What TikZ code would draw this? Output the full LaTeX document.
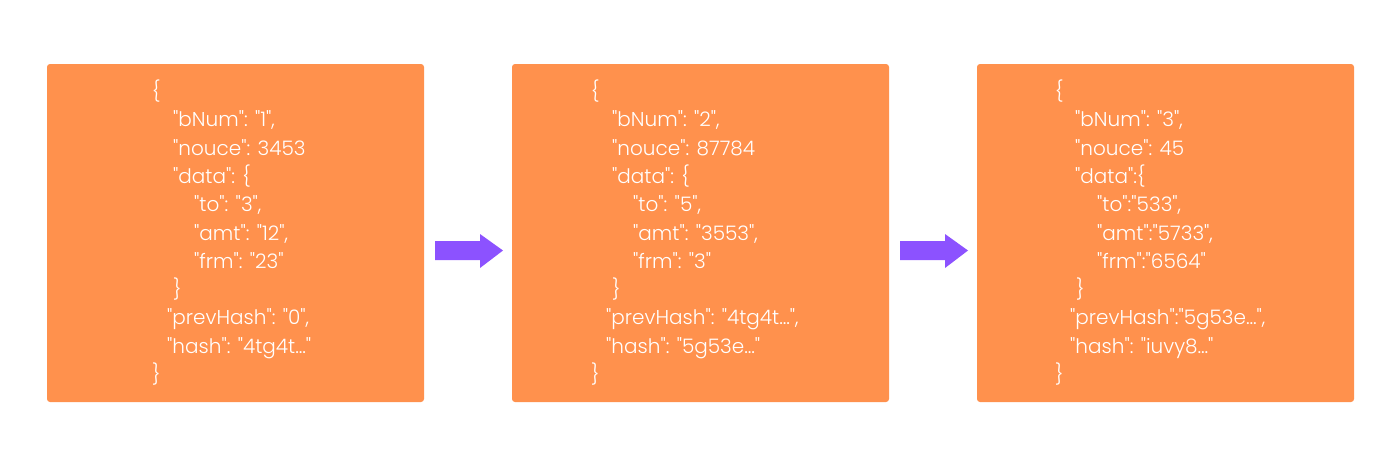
\documentclass[tikz,border=0pt]{standalone}
\usepackage{fontspec}
\setmainfont{Poppins Light}[Ligatures=TeXOff]
\definecolor{blockorange}{HTML}{FF914D}
\definecolor{arrowpurple}{HTML}{8C52FF}
\tikzset{
  blockbox/.style={fill=blockorange, draw=none, rounded corners=3pt, minimum width=377pt, minimum height=338pt, inner sep=0pt},
  jline/.style={anchor=base west, inner sep=0pt, text=white, font=\fontsize{20}{24}\selectfont},
  blockarrow/.style={fill=arrowpurple, draw=none}
}
\begin{document}
\begin{tikzpicture}[x=1pt, y=-1pt]
\useasboundingbox (0,0) rectangle (1400,467);
\node[blockbox] (box1) at (235.5,233) {};
\node[blockbox] (box2) at (700.5,233) {};
\node[blockbox] (box3) at (1165.5,233) {};
% arrows
\fill[blockarrow] (435,241) -- (480,241) -- (480,234) -- (503,250.5) -- (480,268) -- (480,260) -- (435,260) -- cycle;
\fill[blockarrow] (900,241) -- (945,241) -- (945,234) -- (968,250.5) -- (945,268) -- (945,260) -- (900,260) -- cycle;
% block 1
\node[jline] (a0) at (152,98.5) {\{};
\node[jline] (a1) at (173,126.8) {"bNum": "1",};
\node[jline] (a2) at (173,155.1) {"nouce": 3453};
\node[jline] (a3) at (173,183.4) {"data": \{};
\node[jline] (a4) at (194,211.7) {"to": "3",};
\node[jline] (a5) at (194,240) {"amt": "12",};
\node[jline] (a6) at (194,268.3) {"frm": "23"};
\node[jline] (a7) at (173,296.6) {\}};
\node[jline] (a8) at (167,324.9) {"prevHash": "0",};
\node[jline] (a9) at (167,353.2) {"hash": "4tg4t…"};
\node[jline] (a10) at (152,381.5) {\}};
% block 2
\node[jline] (b0) at (591,98.5) {\{};
\node[jline] (b1) at (612,126.8) {"bNum": "2",};
\node[jline] (b2) at (612,155.1) {"nouce": 87784};
\node[jline] (b3) at (612,183.4) {"data": \{};
\node[jline] (b4) at (633,211.7) {"to": "5",};
\node[jline] (b5) at (633,240) {"amt": "3553",};
\node[jline] (b6) at (633,268.3) {"frm": "3"};
\node[jline] (b7) at (612,296.6) {\}};
\node[jline] (b8) at (606,324.9) {"prevHash": "4tg4t…",};
\node[jline] (b9) at (606,353.2) {"hash": "5g53e…"};
\node[jline] (b10) at (591,381.5) {\}};
% block 3
\node[jline] (c0) at (1055,98.5) {\{};
\node[jline] (c1) at (1075,126.8) {"bNum": "3",};
\node[jline] (c2) at (1075,155.1) {"nouce": 45};
\node[jline] (c3) at (1075,183.4) {"data":\{};
\node[jline] (c4) at (1097,211.7) {"to":"533",};
\node[jline] (c5) at (1097,240) {"amt":"5733",};
\node[jline] (c6) at (1097,268.3) {"frm":"6564"};
\node[jline] (c7) at (1076,296.6) {\}};
\node[jline] (c8) at (1070,324.9) {"prevHash":"5g53e…",};
\node[jline] (c9) at (1070,353.2) {"hash": "iuvy8…"};
\node[jline] (c10) at (1055,381.5) {\}};
\end{tikzpicture}
\end{document}
